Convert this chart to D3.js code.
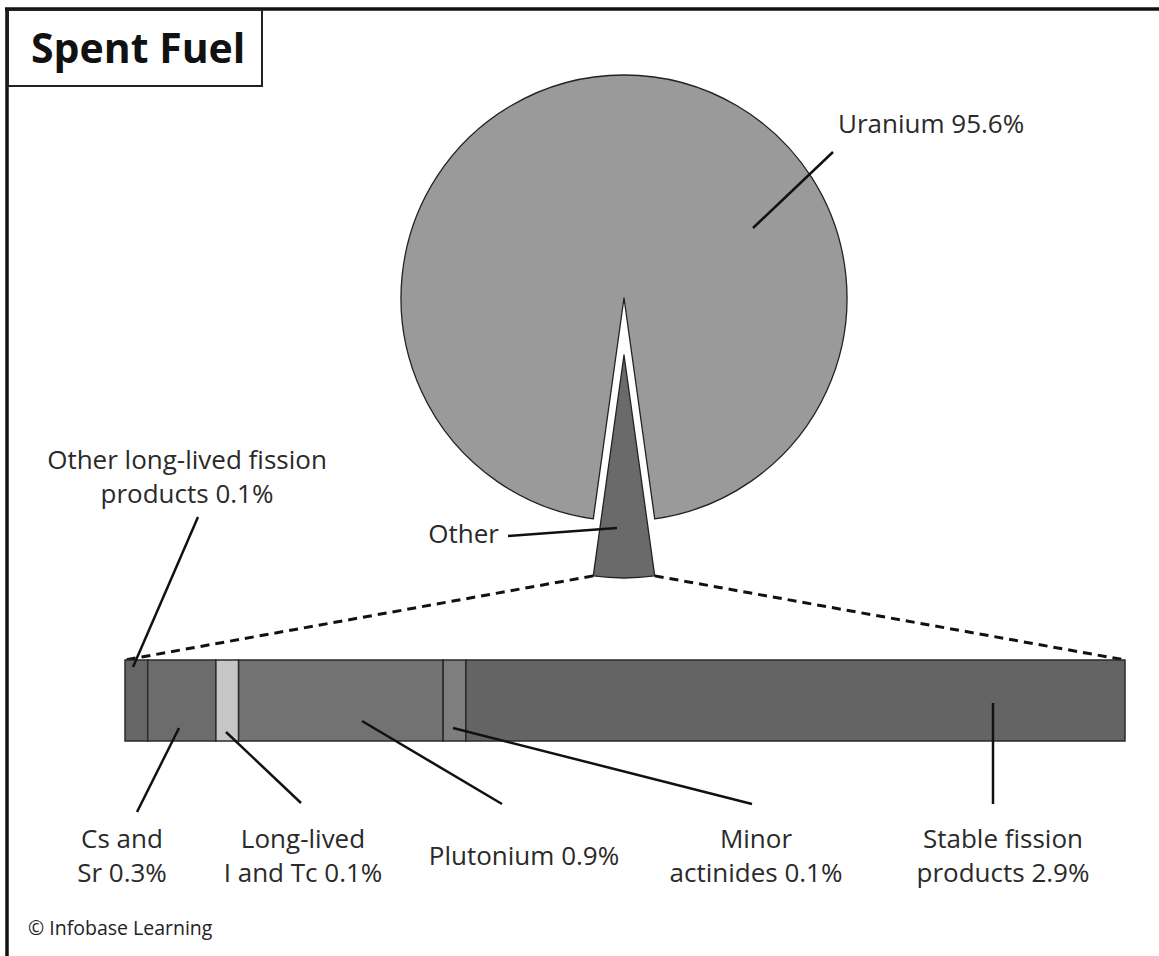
<!DOCTYPE html>
<html>
<head>
<meta charset="utf-8">
<script src="https://cdn.jsdelivr.net/npm/d3@7"></script>
<style>
  html, body { margin: 0; padding: 0; background: #fff; }
  svg { display: block; font-family: "Open Sans", "Noto Sans", sans-serif; }
</style>
</head>
<body>
<div id="chart"></div>
<script>
// pie data
const pieNames = ["Uranium", "Other"];
const pieValues = [95.6, 4.4];
const pieLabels = ["Uranium 95.6%", "Other"];

// breakdown of "Other"
const barNames = ["Other long-lived fission products", "Cs and Sr", "Long-lived I and Tc", "Plutonium", "Minor actinides", "Stable fission products"];
const barValues = [0.1, 0.3, 0.1, 0.9, 0.1, 2.9];
const barLabels = [
  ["Other long-lived fission", "products 0.1%"],
  ["Cs and", "Sr 0.3%"],
  ["Long-lived", "I and Tc 0.1%"],
  ["Plutonium 0.9%"],
  ["Minor", "actinides 0.1%"],
  ["Stable fission", "products 2.9%"]
];

const W = 1159, H = 956;
const cx = 624, cy = 298, R = 223, explode = 57;
const bar = {x0: 125, x1: 1125, y: 660, h: 81};
const fs = 26;

const pieColors = ["#9a9a9a", "#6a6a6a"];
const barColors = ["#666666", "#6c6c6c", "#c6c6c6", "#727272", "#7e7e7e", "#646464"];

// label layout: text anchor point + leader line (from, to)
const barLabelPos = [
  {x: 187, y: 469, l: [[198, 517], [133, 667]]},
  {x: 122, y: 848, l: [[179, 728], [137, 812]]},
  {x: 303, y: 848, l: [[226, 732], [301, 803]]},
  {x: 524, y: 865, l: [[362, 721], [502, 804]]},
  {x: 756, y: 848, l: [[453, 728], [752, 804]]},
  {x: 1003, y: 848, l: [[993, 703], [993, 804]]}
];

const svg = d3.select("#chart").append("svg")
  .attr("width", W).attr("height", H);

// frame (top and left edges)
svg.append("line").attr("x1", 5).attr("x2", W).attr("y1", 9).attr("y2", 9)
  .attr("stroke", "#111").attr("stroke-width", 3.5);
svg.append("line").attr("x1", 7).attr("x2", 7).attr("y1", 8).attr("y2", H)
  .attr("stroke", "#111").attr("stroke-width", 3.5);

// title box
svg.append("rect").attr("x", 8).attr("y", 10).attr("width", 254).attr("height", 76)
  .attr("fill", "#fff").attr("stroke", "#222").attr("stroke-width", 2);
svg.append("text").attr("x", 31).attr("y", 63)
  .attr("font-size", 41).attr("font-weight", 700).attr("fill", "#111")
  .text("Spent Fuel");

// pie
const share = pieValues[1] / d3.sum(pieValues);
const start = Math.PI + share * Math.PI;
const pie = d3.pie().sort(null).startAngle(start).endAngle(start + 2 * Math.PI);
const arcs = pie(pieValues);
const arc = d3.arc().innerRadius(0).outerRadius(R);

const pieG = svg.append("g").attr("transform", `translate(${cx},${cy})`);
pieG.selectAll("path").data(arcs).join("path")
  .attr("d", arc)
  .attr("fill", (d, i) => pieColors[i])
  .attr("stroke", "#222").attr("stroke-width", 1.3)
  .attr("stroke-linejoin", "round")
  .attr("transform", (d, i) => {
    if (i === 0) return null;
    const a = (d.startAngle + d.endAngle) / 2;
    return `translate(${Math.sin(a) * explode},${-Math.cos(a) * explode})`;
  });

// exploded slice outer corners -> dashed lines to bar ends
const o = arcs[1];
const mid = (o.startAngle + o.endAngle) / 2;
const ox = Math.sin(mid) * explode, oy = -Math.cos(mid) * explode;
const corner = a => [cx + ox + Math.sin(a) * R, cy + oy - Math.cos(a) * R];
const cA = corner(o.endAngle), cB = corner(o.startAngle);
const cl = cA[0] < cB[0] ? cA : cB, cr = cA[0] < cB[0] ? cB : cA;

const xScale = d3.scaleLinear().domain([0, d3.sum(barValues)]).range([bar.x0, bar.x1]);

svg.append("line").attr("x1", cl[0]).attr("y1", cl[1]).attr("x2", xScale(0)).attr("y2", bar.y)
  .attr("stroke", "#111").attr("stroke-width", 3).attr("stroke-dasharray", "9,6");
svg.append("line").attr("x1", cr[0]).attr("y1", cr[1]).attr("x2", xScale(d3.sum(barValues))).attr("y2", bar.y)
  .attr("stroke", "#111").attr("stroke-width", 3).attr("stroke-dasharray", "9,6");

// pie labels
svg.append("text").attr("x", 838).attr("y", 133)
  .attr("font-size", fs).attr("fill", "#2a2a2a").text(pieLabels[0]);
svg.append("line").attr("x1", 833).attr("y1", 152).attr("x2", 753).attr("y2", 228)
  .attr("stroke", "#111").attr("stroke-width", 2.5);
svg.append("text").attr("x", 499).attr("y", 543).attr("text-anchor", "end")
  .attr("font-size", fs).attr("fill", "#2a2a2a").text(pieLabels[1]);
svg.append("line").attr("x1", 508).attr("y1", 536).attr("x2", 617).attr("y2", 528)
  .attr("stroke", "#111").attr("stroke-width", 2.5);

// stacked bar
const cum = d3.cumsum(barValues);
const segs = barValues.map((v, i) => ({name: barNames[i], v, s: cum[i] - v, e: cum[i]}));

svg.append("g").selectAll("rect").data(segs).join("rect")
  .attr("x", d => xScale(d.s)).attr("y", bar.y)
  .attr("width", d => xScale(d.e) - xScale(d.s)).attr("height", bar.h)
  .attr("fill", (d, i) => barColors[i])
  .attr("stroke", "#2a2a2a").attr("stroke-width", 1.5);

// bar labels + leaders
const lab = svg.append("g");
barLabels.forEach((lines, i) => {
  const p = barLabelPos[i];
  lab.append("line")
    .attr("x1", p.l[0][0]).attr("y1", p.l[0][1]).attr("x2", p.l[1][0]).attr("y2", p.l[1][1])
    .attr("stroke", "#111").attr("stroke-width", 2.5);
  const t = lab.append("text").attr("text-anchor", "middle")
    .attr("font-size", fs).attr("fill", "#2a2a2a");
  lines.forEach((s, j) => {
    t.append("tspan").attr("x", p.x).attr("y", p.y + j * 34).text(s);
  });
});

// credit
svg.append("text").attr("x", 28).attr("y", 935)
  .attr("font-size", 19.5).attr("fill", "#222").text("\u00A9 Infobase Learning");
</script>
</body>
</html>
